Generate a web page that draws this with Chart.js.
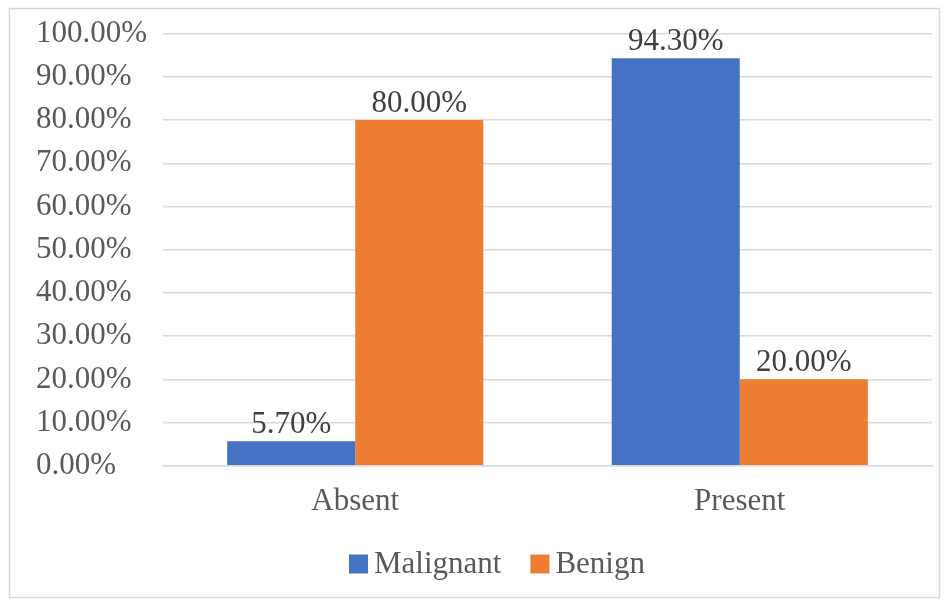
<!DOCTYPE html>
<html>
<head>
<meta charset="utf-8">
<script src="https://cdn.jsdelivr.net/npm/chart.js@4/dist/chart.umd.min.js"></script>
<style>
  html, body { margin: 0; padding: 0; background: #fff; }
  #wrap { width: 944px; height: 606px; position: relative; }
</style>
</head>
<body>
<div id="wrap"><canvas id="c" width="944" height="606"></canvas></div>
<script>
const categories = ['Absent', 'Present'];
const malignant = [5.7, 94.3];
const benign = [80.0, 20.0];
const yTicks = [0, 10, 20, 30, 40, 50, 60, 70, 80, 90, 100];

const FONT = "'Liberation Serif', 'Times New Roman', serif";
const FONT_SIZE = 31;
const TEXT_COLOR = '#595959';
const fmt = v => v.toFixed(2) + '%';

// Outer frame around the whole chart
const framePlugin = {
  id: 'frame',
  beforeDraw(chart) {
    const ctx = chart.ctx;
    ctx.save();
    ctx.fillStyle = '#ffffff';
    ctx.fillRect(0, 0, chart.width, chart.height);
    ctx.strokeStyle = '#d9d9d9';
    ctx.lineWidth = 1.5;
    ctx.strokeRect(9.5, 8.5, 930, 589);
    ctx.restore();
  }
};

// Value labels above each bar
const valueLabels = {
  id: 'valueLabels',
  afterDatasetsDraw(chart) {
    const ctx = chart.ctx;
    ctx.save();
    ctx.font = FONT_SIZE + 'px ' + FONT;
    ctx.fillStyle = '#404040';
    ctx.textAlign = 'center';
    ctx.textBaseline = 'alphabetic';
    chart.data.datasets.forEach((ds, i) => {
      chart.getDatasetMeta(i).data.forEach((bar, j) => {
        ctx.fillText(fmt(ds.data[j]), bar.x, bar.y - 8);
      });
    });
    ctx.restore();
  }
};

// Compact legend below the axis: square swatch followed closely by the series name
const compactLegend = {
  id: 'compactLegend',
  afterDraw(chart) {
    const ctx = chart.ctx;
    const box = 19, gap = 6, spacing = 29;
    ctx.save();
    ctx.font = FONT_SIZE + 'px ' + FONT;
    const items = chart.data.datasets.map(ds => ({
      text: ds.label, color: ds.backgroundColor, w: ctx.measureText(ds.label).width
    }));
    const total = items.reduce((s, it) => s + box + gap + it.w, 0) + spacing * (items.length - 1);
    const cx = 497, cy = 564;
    let x = cx - total / 2;
    ctx.textBaseline = 'middle';
    ctx.textAlign = 'left';
    items.forEach(it => {
      ctx.fillStyle = it.color;
      ctx.fillRect(x, cy - box / 2, box, box);
      x += box + gap;
      ctx.fillStyle = TEXT_COLOR;
      ctx.fillText(it.text, x, cy + 1);
      x += it.w + spacing;
    });
    ctx.restore();
  }
};

new Chart(document.getElementById('c'), {
  type: 'bar',
  data: {
    labels: categories,
    datasets: [
      { label: 'Malignant', data: malignant, backgroundColor: '#4472C4', borderWidth: 0 },
      { label: 'Benign', data: benign, backgroundColor: '#ED7D31', borderWidth: 0 }
    ]
  },
  options: {
    responsive: false,
    animation: false,
    layout: { padding: { left: 36, right: 12, top: 27, bottom: 69 } },
    datasets: { bar: { categoryPercentage: 0.666, barPercentage: 1.0 } },
    scales: {
      x: {
        grid: { display: false, drawTicks: false },
        border: { display: true, color: '#d9d9d9', width: 1.5 },
        ticks: { color: TEXT_COLOR, font: { family: FONT, size: FONT_SIZE }, padding: 17 }
      },
      y: {
        min: 0,
        max: 100,
        afterBuildTicks: s => { s.ticks = yTicks.map(v => ({ value: v })); },
        afterFit: s => { s.width = 127; },
        grid: { color: '#d9d9d9', lineWidth: 1.5, drawTicks: false },
        border: { display: false },
        ticks: {
          color: TEXT_COLOR,
          font: { family: FONT, size: FONT_SIZE },
          crossAlign: 'far',
          padding: 15,
          callback: v => fmt(v)
        }
      }
    },
    plugins: {
      legend: { display: false },
      tooltip: { enabled: false }
    }
  },
  plugins: [framePlugin, valueLabels, compactLegend]
});
</script>
</body>
</html>
